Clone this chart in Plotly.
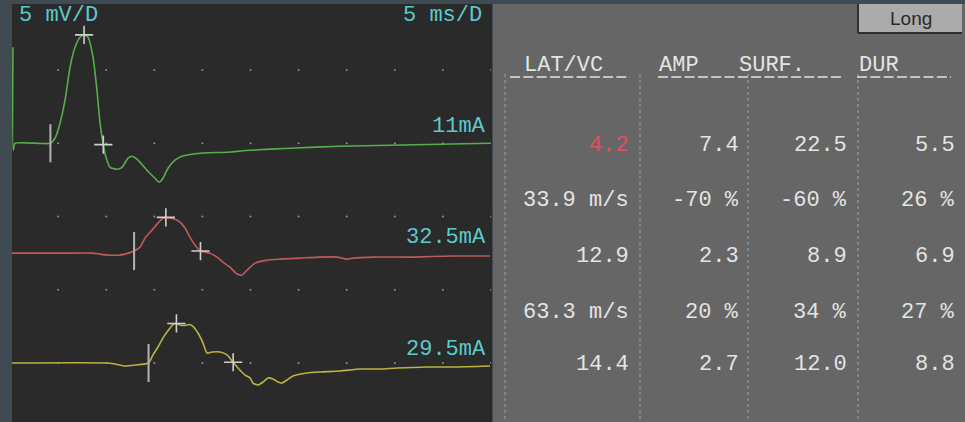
import numpy as np
import plotly.graph_objects as go

W, H = 965, 422

# ---- recorded responses (time in ms, amplitude in mV, relative to baseline) ----
stim_labels = ["11mA", "32.5mA", "29.5mA"]
trace_colors = ["#56ae4b", "#c2585c", "#b8b342"]

green_t = [0.31, 0.34, 0.52, 4.2, 4.68, 5.20, 5.72, 6.24, 6.76, 7.28, 7.7, 8.11, 8.63, 9.04,
           9.36, 9.67, 9.98, 10.40, 11.12, 11.64, 12.27, 12.68, 13.20, 14.24, 15.07, 15.49,
           15.90, 16.42, 17.15, 17.88, 19.75, 22.56, 24.95, 29.11, 34.30, 39.50, 44.70, 49.90]
green_v = [6.55, -0.48, 0.0, 0.0, 0.34, 1.37, 2.94, 5.19, 6.55, 7.24, 7.4, 7.24, 5.87, 3.62,
           1.37, 0.0, -0.96, -1.64, -1.77, -1.64, -1.02, -0.89, -1.09, -1.84, -2.39, -2.66,
           -2.39, -1.71, -1.16, -0.89, -0.68, -0.61, -0.48, -0.34, -0.20, -0.14, -0.07, 0.0]

red_t = [0.21, 5.20, 8.63, 9.36, 10.40, 11.23, 11.95, 12.9, 13.51, 14.03, 14.76, 15.38, 15.90,
         16.2, 16.63, 17.15, 17.67, 18.19, 18.71, 19.23, 19.8, 20.27, 20.79, 21.52, 22.14,
         22.87, 23.60, 24.12, 24.64, 25.47, 26.72, 28.07, 30.15, 32.22, 33.99, 35.03, 35.65,
         37.73, 41.89, 46.05, 49.90]
red_v = [0.0, 0.0, 0.0, -0.07, -0.14, -0.14, -0.07, 0.14, 0.41, 1.02, 1.57, 2.05, 2.37,
         2.44, 2.39, 2.32, 2.12, 1.71, 1.09, 0.55, 0.14, 0.07, 0.0, -0.27, -0.61,
         -0.96, -1.43, -1.50, -1.16, -0.68, -0.48, -0.41, -0.34, -0.27, -0.27, -0.41, -0.34,
         -0.27, -0.27, -0.20, -0.20]

yellow_t = [0.21, 10.08, 10.91, 11.95, 12.99, 14.4, 14.86, 15.38, 15.90, 16.42, 16.94, 17.3,
            17.67, 18.19, 18.71, 19.02, 19.54, 20.06, 20.48, 21.00, 21.83, 22.56, 23.2, 23.70,
            24.43, 24.95, 25.26, 25.78, 26.30, 26.82, 27.34, 27.86, 28.27, 28.79, 29.42,
            30.87, 32.22, 34.30, 36.38, 38.46, 40.23, 43.35, 46.05, 49.90]
yellow_v = [0.0, 0.0, -0.07, -0.20, -0.14, 0.0, 0.55, 1.09, 1.71, 2.20, 2.62, 2.7,
            2.60, 2.56, 2.63, 2.50, 2.05, 1.37, 0.68, 0.75, 0.75, 0.55, 0.05, -0.34,
            -0.82, -1.02, -1.37, -1.50, -1.30, -1.02, -1.09, -1.30, -1.37, -1.16, -0.89,
            -0.68, -0.61, -0.55, -0.41, -0.41, -0.34, -0.27, -0.27, -0.20]

# ---- measurements ----
lat_ms = [4.2, 12.9, 14.4]
amp_mv = [7.4, 2.3, 2.7]
surf = [22.5, 8.9, 12.0]
dur_ms = [5.5, 6.9, 8.8]
peak_ms = [7.7, 16.2, 17.3]
velocity = [33.9, 63.3]
amp_pct = [-70, 20]
surf_pct = [-60, 34]
dur_pct = [26, 27]

# ---- display settings ----
MS_PER_DIV = 5
MV_PER_DIV = 5
X_DIVS = 10
row_offset = [15.0, 7.5, 0.0]          # baseline of each sweep on the screen (mV)
PX_PER_MV = 73.25 / MV_PER_DIV
Y_TOP = (363 - 4) / PX_PER_MV
Y_BOT = -(422 - 363) / PX_PER_MV

BG = "#3f4a52"
SCOPE_BG = "#2a2a2a"
TABLE_BG = "#666666"
CYAN = "#5cc9c9"
TXT = "#e4e4e4"
MONO = "Liberation Mono, DejaVu Sans Mono, monospace"


def px(x):
    return x / W


def py(y):
    return 1 - y / H


fig = go.Figure()

# grid dots
gx, gy = [], []
for i in range(1, X_DIVS + 1):
    for j in range(0, 5):
        gx.append(i * MS_PER_DIV)
        gy.append(j * MV_PER_DIV)
fig.add_trace(go.Scatter(x=gx, y=gy, mode="markers",
                         marker=dict(size=2, color="#8c8c8c"), hoverinfo="skip"))

series = [(green_t, green_v), (red_t, red_v), (yellow_t, yellow_v)]
for k, (t, v) in enumerate(series):
    off = row_offset[k]
    vv = np.array(v) + off
    fig.add_trace(go.Scatter(x=t, y=vv, mode="lines",
                             line=dict(color=trace_colors[k], width=1.6, shape="spline", smoothing=0.6),
                             hoverinfo="skip"))
    # onset marker
    v_on = np.interp(lat_ms[k], t, v) + off
    fig.add_trace(go.Scatter(x=[lat_ms[k], lat_ms[k]], y=[v_on - 1.3, v_on + 1.3], mode="lines",
                             line=dict(color="#b4b4b4", width=2), hoverinfo="skip"))
    # peak and end-of-response markers
    v_on_raw = np.interp(lat_ms[k], t, v)
    t_end = lat_ms[k] + dur_ms[k]
    fig.add_trace(go.Scatter(
        x=[peak_ms[k], t_end],
        y=[v_on_raw + amp_mv[k] + off, np.interp(t_end, t, v) + off],
        mode="markers",
        marker=dict(symbol="cross-thin", size=13, line=dict(color="#cfcfcf", width=1.6)),
        hoverinfo="skip"))

shapes = [
    dict(type="rect", xref="paper", yref="paper", x0=px(12), x1=px(492), y0=0, y1=py(4),
         fillcolor=SCOPE_BG, line=dict(width=0), layer="below"),
    dict(type="rect", xref="paper", yref="paper", x0=px(493), x1=1, y0=0, y1=py(4),
         fillcolor=TABLE_BG, line=dict(width=0), layer="below"),
]
# column separators
for sx in [505, 640, 748, 858]:
    shapes.append(dict(type="line", xref="paper", yref="paper", x0=px(sx), x1=px(sx),
                       y0=py(74), y1=0, line=dict(color="#a0a0a0", width=1, dash="dot")))
# header underlines
for x0, x1 in [(510, 630), (658, 844), (857, 951)]:
    shapes.append(dict(type="line", xref="paper", yref="paper", x0=px(x0), x1=px(x1),
                       y0=py(77), y1=py(77),
                       line=dict(color=TXT, width=1.5, dash="10px,3.3px")))
# "Long" button
shapes.append(dict(type="rect", xref="paper", yref="paper", x0=px(858), x1=px(962),
                   y0=py(33), y1=py(4), fillcolor="#ababab", line=dict(width=0)))
shapes.append(dict(type="line", xref="paper", yref="paper", x0=px(858), x1=px(858),
                   y0=py(33), y1=py(4), line=dict(color="#2e2e2e", width=2)))
shapes.append(dict(type="line", xref="paper", yref="paper", x0=px(858), x1=px(962),
                   y0=py(33), y1=py(33), line=dict(color="#2e2e2e", width=2)))

ann = []


def label(text, x, y, anchor="left", color=TXT, size=22, family=MONO):
    ann.append(dict(text=text, x=px(x), y=py(y), xref="paper", yref="paper",
                    xanchor=anchor, yanchor="middle", showarrow=False,
                    font=dict(family=family, size=size, color=color)))


label(f"{MV_PER_DIV} mV/D", 17, 16, color=CYAN)
label(f"{MS_PER_DIV} ms/D", 484, 16, anchor="right", color=CYAN)
for k, y in enumerate([127, 237, 349]):
    label(stim_labels[k], 488, y, anchor="right", color=CYAN)

label("LAT/VC", 522, 66)
label("AMP", 657, 66)
label("SURF.", 737, 66)
label("DUR", 857, 66)
label("Long", 911, 18, anchor="center", color="#2a2a2a", size=19,
      family="Liberation Sans, Arial, sans-serif")

col_right = [631, 741, 849, 957]
row_y = [145, 200, 256, 312, 364]
rows = []
for k in range(3):
    rows.append([f"{lat_ms[k]:.1f}", f"{amp_mv[k]:.1f}", f"{surf[k]:.1f}", f"{dur_ms[k]:.1f}"])
    if k < 2:
        rows.append([f"{velocity[k]:.1f} m/s", f"{amp_pct[k]} %", f"{surf_pct[k]} %", f"{dur_pct[k]} %"])
for r, vals in enumerate(rows):
    for c, s in enumerate(vals):
        col = "#e2505f" if (r == 0 and c == 0) else TXT
        label(s, col_right[c], row_y[r], anchor="right", color=col)

fig.update_layout(
    width=W, height=H, margin=dict(l=0, r=0, t=0, b=0),
    paper_bgcolor=BG, plot_bgcolor="rgba(0,0,0,0)",
    showlegend=False, shapes=shapes, annotations=ann,
    xaxis=dict(domain=[px(10), px(491)], range=[0, X_DIVS * MS_PER_DIV], visible=False,
               showgrid=False, zeroline=False),
    yaxis=dict(domain=[0, py(4)], range=[Y_BOT, Y_TOP], visible=False,
               showgrid=False, zeroline=False),
)

fig.write_html("out.html", config=dict(displayModeBar=False))
